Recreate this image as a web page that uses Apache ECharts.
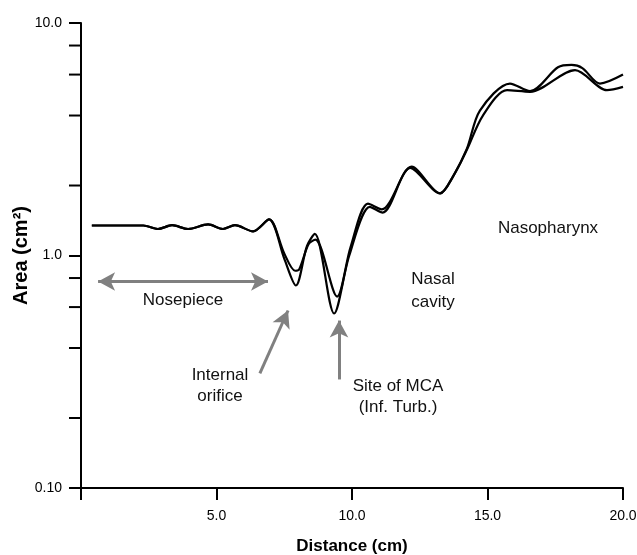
<!DOCTYPE html>
<html>
<head>
<meta charset="utf-8">
<script src="https://cdn.jsdelivr.net/npm/echarts@6/dist/echarts.min.js"></script>
<style>
  html, body { margin: 0; padding: 0; background: #fff; }
  #main { width: 637px; height: 555px; }
</style>
</head>
<body>
<div id="main"></div>
<script>
// curve 1 (shallower dips)
var xA = [0.4, 2.3, 2.84, 3.36, 3.95, 4.69, 5.24, 5.68, 6.35, 6.94, 7.5, 7.9, 8.05, 8.4, 8.65, 9.45,
  9.95, 10.59, 11.1, 12.2, 13.25, 13.73, 14.24, 14.72, 15.83, 16.57, 17.6, 18.1, 18.5, 19.15, 20.0]
var yA = [1.346, 1.346, 1.30, 1.35, 1.30, 1.36, 1.30, 1.35, 1.27, 1.43, 1.02, 0.86, 0.87, 1.12, 1.17, 0.666,
  1.09, 1.67, 1.58, 2.41, 1.85, 2.19, 2.88, 4.2, 5.49, 5.09, 6.45, 6.6, 6.4, 5.49, 6.0]
// curve 2 (deeper dips)
var xB = [0.4, 2.3, 2.84, 3.36, 3.95, 4.69, 5.24, 5.68, 6.35, 6.94, 7.5, 7.93, 8.34, 8.63, 9.34,
  9.9, 10.66, 11.13, 12.15, 13.25, 13.73, 14.24, 14.83, 15.72, 16.57, 18.23, 19.41, 20.0]
var yB = [1.346, 1.346, 1.30, 1.35, 1.30, 1.36, 1.30, 1.35, 1.27, 1.43, 0.97, 0.743, 1.1, 1.24, 0.563,
  1.0, 1.62, 1.53, 2.38, 1.85, 2.19, 2.85, 4.0, 5.14, 5.06, 6.27, 5.14, 5.31]
var minorTicks = [0.2, 0.4, 0.6, 0.8, 2, 4, 6, 8]

function pairs(xs, ys) {
  return xs.map(function(x, i) { return [x, ys[i]] })
}

var font = '"Liberation Sans", Arial, sans-serif'
var arrowGray = '#808080'

var myChart = echarts.init(document.getElementById('main'))
var option = {
  animation: false,
  grid: { left: 81, right: 14, top: 23, bottom: 67, outerBoundsMode: 'none', containLabel: false },
  xAxis: {
    type: 'value',
    min: 0,
    max: 20,
    interval: 5,
    name: 'Distance (cm)',
    nameLocation: 'middle',
    nameGap: 50,
    nameMoveOverlap: false,
    nameTextStyle: { fontFamily: font, fontSize: 17, fontWeight: 'bold', color: '#000' },
    splitLine: { show: false },
    axisLine: { lineStyle: { color: '#000', width: 2 } },
    axisTick: { length: 12, lineStyle: { color: '#000', width: 2 } },
    axisLabel: {
      margin: 21,
      fontFamily: font,
      fontSize: 14,
      color: '#000',
      formatter: function(v) { return v === 0 ? '' : v.toFixed(1) }
    }
  },
  yAxis: {
    type: 'log',
    logBase: 10,
    min: 0.1,
    max: 10,
    name: 'Area (cm²)',
    nameLocation: 'middle',
    nameGap: 50,
    nameMoveOverlap: false,
    nameTextStyle: { fontFamily: font, fontSize: 20, fontWeight: 'bold', color: '#000' },
    splitLine: { show: false },
    axisLine: { show: true, lineStyle: { color: '#000', width: 2 } },
    axisTick: { length: 12, lineStyle: { color: '#000', width: 2 } },
    axisLabel: {
      margin: 19,
      fontFamily: font,
      fontSize: 14,
      color: '#000',
      formatter: function(v) {
        if (v >= 10) return '10.0'
        if (v >= 1) return '1.0'
        return '0.10'
      }
    }
  },
  series: [
    {
      type: 'line',
      data: pairs(xA, yA),
      smooth: 0.3,
      showSymbol: false,
      lineStyle: { color: '#000', width: 2.2 },
      silent: true
    },
    {
      type: 'line',
      data: pairs(xB, yB),
      smooth: 0.3,
      showSymbol: false,
      lineStyle: { color: '#000', width: 2.2 },
      silent: true,
      markLine: {
        silent: true,
        symbolSize: [14, 17],
        label: { show: false },
        lineStyle: { color: arrowGray, width: 3, type: 'solid' },
        data: [
          [{ coord: [0.63, 0.773], symbol: 'arrow' }, { coord: [6.9, 0.773], symbol: 'arrow' }],
          [{ coord: [6.6, 0.311], symbol: 'none' }, { coord: [7.64, 0.58], symbol: 'arrow' }],
          [{ coord: [9.52, 0.293], symbol: 'none' }, { coord: [9.52, 0.525], symbol: 'arrow' }]
        ]
      }
    },
    {
      // minor ticks of the log axis at 2,4,6,8 of each decade
      type: 'custom',
      clip: false,
      silent: true,
      data: minorTicks.map(function(v) { return [0, v] }),
      renderItem: function(params, api) {
        var p = api.coord([0, api.value(1)])
        return {
          type: 'line',
          shape: { x1: p[0] - 12, y1: p[1], x2: p[0], y2: p[1] },
          style: { stroke: '#000', lineWidth: 2 }
        }
      }
    }
  ],
  graphic: [
    { type: 'text', x: 183, y: 300, style: { text: 'Nosepiece', align: 'center', verticalAlign: 'middle', font: '17px ' + font, fill: '#111' } },
    { type: 'text', x: 220, y: 386, style: { text: 'Internal\norifice', align: 'center', verticalAlign: 'middle', lineHeight: 21, font: '17px ' + font, fill: '#111' } },
    { type: 'text', x: 398, y: 397, style: { text: 'Site of MCA\n(Inf. Turb.)', align: 'center', verticalAlign: 'middle', lineHeight: 21, font: '17px ' + font, fill: '#111' } },
    { type: 'text', x: 433, y: 291, style: { text: 'Nasal\ncavity', align: 'center', verticalAlign: 'middle', lineHeight: 23, font: '17px ' + font, fill: '#111' } },
    { type: 'text', x: 548, y: 228, style: { text: 'Nasopharynx', align: 'center', verticalAlign: 'middle', font: '17px ' + font, fill: '#111' } }
  ]
}
myChart.setOption(option)
</script>
</body>
</html>
